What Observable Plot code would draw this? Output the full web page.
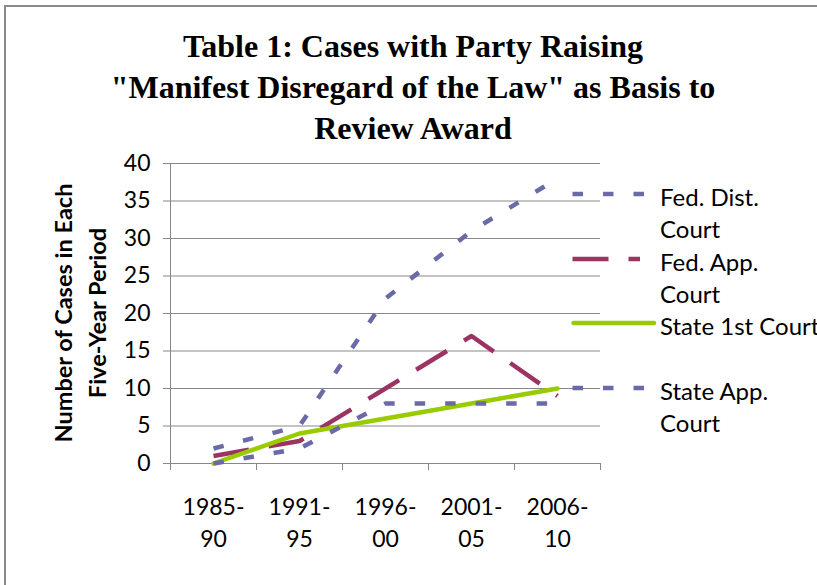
<!DOCTYPE html>
<html>
<head>
<meta charset="utf-8">
<script src="https://cdn.jsdelivr.net/npm/d3@7"></script>
<script src="https://cdn.jsdelivr.net/npm/@observablehq/plot@0.6"></script>
<style>
  html, body { margin: 0; padding: 0; background: #fff; }
  #wrap { position: relative; width: 817px; height: 585px; overflow: hidden; background: #fff; }
  #frame { position: absolute; left: 4px; top: 5px; width: 900px; height: 700px; border-left: 2px solid #8a8a8a; border-top: 2px solid #8a8a8a; }
  #title { position: absolute; left: 63px; width: 700px; top: 26px; text-align: center;
           font-family: "Liberation Serif", "Times New Roman", serif; font-weight: bold; font-size: 32px; line-height: 41px; color: #000; white-space: nowrap; }
  #ytitle { position: absolute; left: -70px; top: 279px; width: 300px; height: 68px; text-align: center;
            font-family: Lato, "Open Sans", sans-serif; font-weight: bold; font-size: 23.5px; line-height: 34px; color: #000;
            transform: rotate(-90deg); transform-origin: 150px 34px; white-space: nowrap; }
  #chart { position: absolute; left: 0; top: 0; }
  .leg { position: absolute; left: 571px; width: 300px; height: 70px; font-family: Lato, "Open Sans", sans-serif; font-size: 24px; line-height: 32px; color: #000; white-space: nowrap; }
  .leg svg { position: absolute; left: 0; top: 0; }
  .leg span { position: absolute; left: 89px; top: 0; }
</style>
</head>
<body>
<div id="wrap">
  <div id="frame"></div>
  <div id="chart"></div>
  <div id="title"></div>
  <div id="ytitle"></div>
  <div id="legend"></div>
</div>
<script>
const titleText = "Table 1: Cases with Party Raising\n\"Manifest Disregard of the Law\" as Basis to\nReview Award";
const yTitle = "Number of Cases in Each\nFive-Year Period";
const categories = ["1985-90", "1991-95", "1996-00", "2001-05", "2006-10"];
const tickLabels = ["1985-\n90", "1991-\n95", "1996-\n00", "2001-\n05", "2006-\n10"];
const seriesNames = ["Fed. Dist. Court", "Fed. App. Court", "State 1st Court", "State App. Court"];
const legendLabels = ["Fed. Dist.\nCourt", "Fed. App.\nCourt", "State 1st Court", "State App.\nCourt"];
const fedDist = [2, 5, 22, 31, 38];
const fedApp = [1, 3, 10, 17, 9];
const state1st = [0, 4, 6, 8, 10];
const stateApp = [0, 2, 8, 8, 8];
const yTicks = [0, 5, 10, 15, 20, 25, 30, 35, 40];

const colors = ["#6a6aa8", "#9b3462", "#99cc00", "#6a6aa8"];
const dashes = ["10.5,20", "36,20", null, "10.5,20"];
const allValues = [fedDist, fedApp, state1st, stateApp];

const rows = allValues.map((vals, s) => vals.map((v, i) => ({series: seriesNames[s], i, cat: categories[i], v})));
const boundaries = d3.range(categories.length + 1).map(k => k - 0.5);
const labelRows = categories.map((c, i) => ({i, label: tickLabels[i]}));

const gridColor = "#878787";
const font = "Lato, 'Open Sans', sans-serif";

const chart = Plot.plot({
  width: 817,
  height: 585,
  marginLeft: 170,
  marginRight: 217,
  marginTop: 163,
  marginBottom: 122,
  style: {fontFamily: font, background: "transparent", overflow: "visible"},
  x: {type: "linear", domain: [-0.5, categories.length - 0.5], axis: null},
  y: {domain: [0, 40], axis: null},
  marks: [
    Plot.ruleY(yTicks, {stroke: gridColor, strokeWidth: 1}),
    Plot.ruleX([-0.5], {y1: 0, y2: 40, stroke: gridColor, strokeWidth: 1}),
    Plot.axisY(yTicks, {tickSize: 7, tickPadding: 13, fontSize: 23, stroke: gridColor, fill: "#000", tickFormat: d => String(d), anchor: "left", label: null}),
    Plot.axisX(boundaries, {tickSize: 7, stroke: gridColor, tickFormat: () => "", anchor: "bottom", label: null}),
    ...rows.map((r, s) => Plot.line(r, {
      x: "i", y: "v", stroke: colors[s], strokeWidth: 4.5,
      strokeDasharray: dashes[s] || undefined,
      strokeLinecap: dashes[s] ? "butt" : "round", strokeLinejoin: "round"
    })),
    Plot.text(labelRows, {x: "i", text: "label", frameAnchor: "bottom", lineAnchor: "top", dy: 29, lineHeight: 1.39, fontSize: 23, fill: "#000"})
  ]
});
document.getElementById("chart").appendChild(chart);

document.getElementById("title").innerHTML = titleText.split("\n").join("<br>");
document.getElementById("ytitle").innerHTML = yTitle.split("\n").join("<br>");

const legendTops = [181, 246, 310, 375];
const legend = document.getElementById("legend");
seriesNames.forEach((name, s) => {
  const div = document.createElement("div");
  div.className = "leg";
  div.style.top = legendTops[s] + "px";
  const dash = dashes[s];
  const x2 = dash ? (s === 1 ? 69 : 74) : 83;
  const svg = `<svg width="90" height="32"><line x1="${dash ? 1.5 : 2.5}" x2="${x2}" y1="13" y2="13" stroke="${colors[s]}" stroke-width="4.5" ${dash ? `stroke-dasharray="${dash}"` : 'stroke-linecap="round"'} /></svg>`;
  div.innerHTML = svg + `<span>${legendLabels[s].split("\n").join("<br>")}</span>`;
  legend.appendChild(div);
});
</script>
</body>
</html>
